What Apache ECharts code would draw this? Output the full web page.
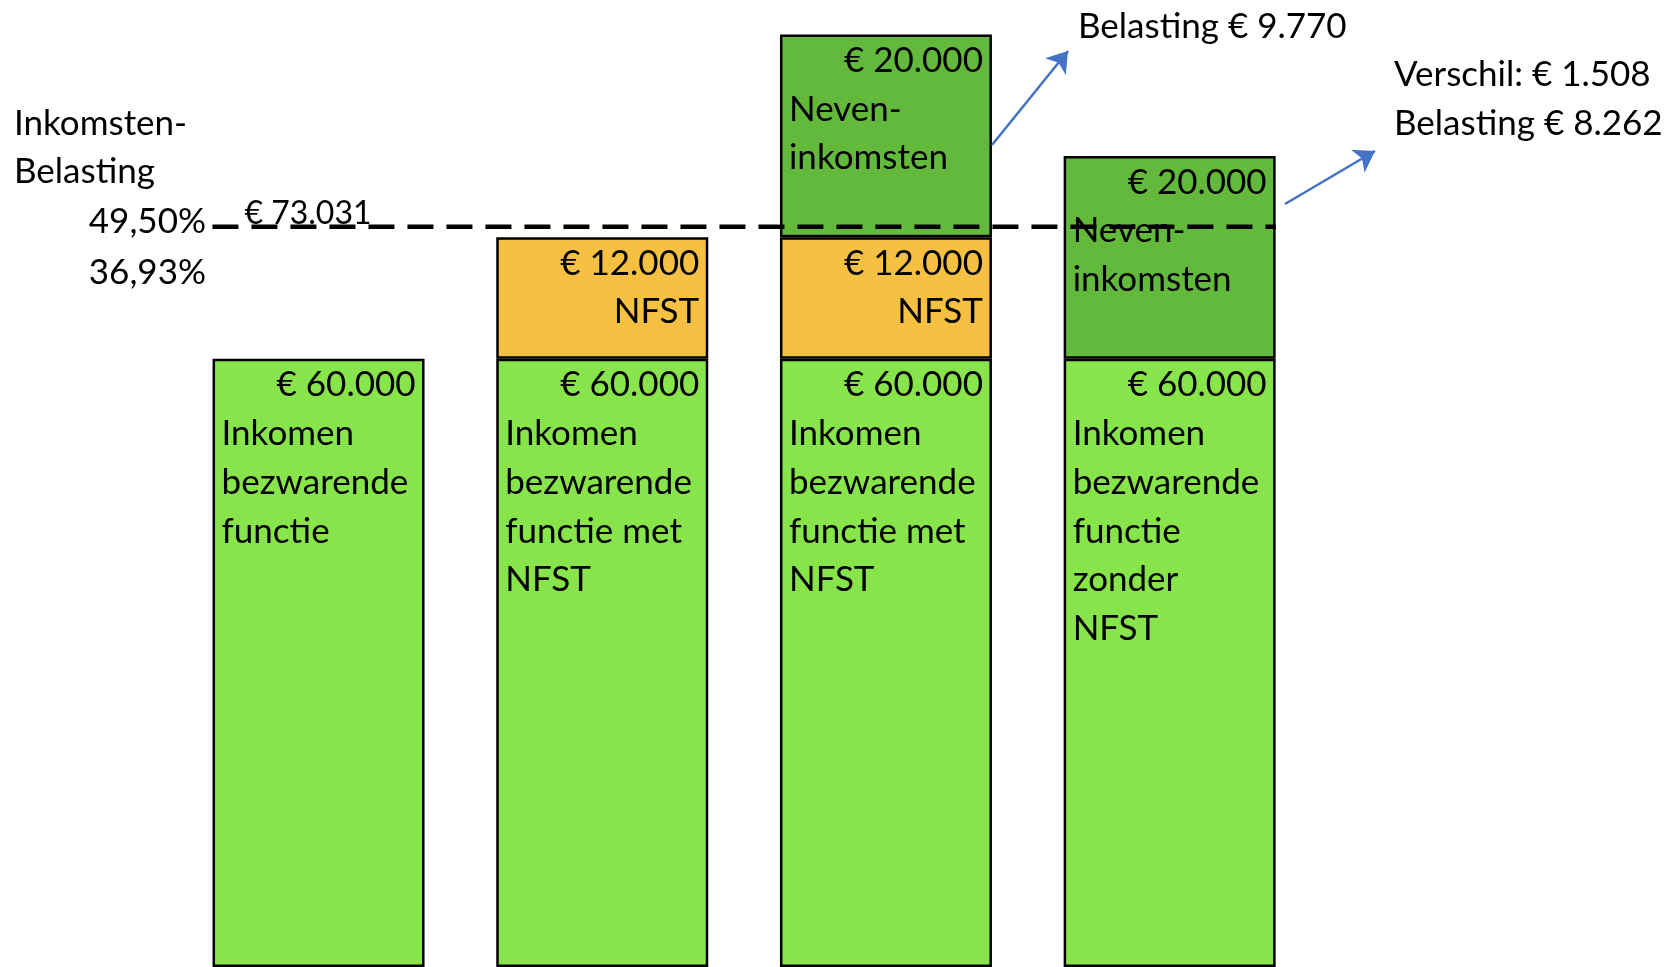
<!DOCTYPE html>
<html>
<head>
<meta charset="utf-8">
<script src="https://cdn.jsdelivr.net/npm/echarts@6/dist/echarts.min.js"></script>
<style>
html,body{margin:0;padding:0;background:#fff;}
#chart{width:1678px;height:967px;}
</style>
</head>
<body>
<div id="chart"></div>
<script>
// ---- data ----
const categories = ['Inkomen bezwarende functie', 'Functie met NFST', 'Functie met NFST + nevenink.', 'Functie zonder NFST'];
const baseValues = [60000, 60000, 60000, 60000];
const nfstValues = [null, 12000, 12000, null];
const nevenValues = [null, null, 20000, 20000];
const baseTexts = [
  ['Inkomen', 'bezwarende', 'functie'],
  ['Inkomen', 'bezwarende', 'functie met', 'NFST'],
  ['Inkomen', 'bezwarende', 'functie met', 'NFST'],
  ['Inkomen', 'bezwarende', 'functie', 'zonder', 'NFST']
];
const nfstTexts = ['NFST'];
const nevenTexts = ['Neven-', 'inkomsten'];
const threshold = 73031;
const thresholdText = '€ 73.031';
const rateAbove = '49,50%';
const rateBelow = '36,93%';
const leftTitle = ['Inkomsten-', 'Belasting'];
const note1 = 'Belasting € 9.770';
const note2 = ['Verschil: € 1.508', 'Belasting € 8.262'];

// ---- helpers ----
const FONT = 'Lato';
function euro(v) {
  return '€ ' + String(v).replace(/\B(?=(\d{3})+(?!\d))/g, '.');
}
const LH = 48.7;
const FS = 35;
const rich = {
  v: { align: 'right', fontSize: FS, lineHeight: LH, fontFamily: FONT, color: '#000' },
  t: { align: 'left', fontSize: FS, lineHeight: LH, fontFamily: FONT, color: '#000' },
  r: { align: 'right', fontSize: FS, lineHeight: LH, fontFamily: FONT, color: '#000' }
};
function labelCfg(fmt) {
  return {
    show: true, position: 'insideTop', distance: 2, width: 194,
    formatter: fmt, rich: rich
  };
}
const border = { borderColor: '#000', borderWidth: 2.5 };

const chart = echarts.init(document.getElementById('chart'), null, { renderer: 'canvas' });
chart.setOption({
  animation: false,
  backgroundColor: '#fff',
  grid: { left: 176.7, right: 366.5, top: 4, bottom: -8, containLabel: false },
  xAxis: [
    { type: 'category', data: categories, show: false },
    { type: 'value', min: -0.5, max: 3.5, show: false }
  ],
  yAxis: { type: 'value', min: 0, max: 95000, show: false, splitLine: { show: false } },
  series: [
    {
      type: 'bar', stack: 'a', barWidth: 212, data: baseValues, z: 2,
      itemStyle: Object.assign({ color: '#88E44B' }, border),
      label: labelCfg(p => '{v|' + euro(p.value) + '}\n' + baseTexts[p.dataIndex].map(s => '{t|' + s + '}').join('\n'))
    },
    {
      type: 'bar', stack: 'a', barWidth: 212, data: nfstValues, z: 2,
      itemStyle: Object.assign({ color: '#F6C143' }, border),
      label: labelCfg(p => '{v|' + euro(p.value) + '}\n' + nfstTexts.map(s => '{r|' + s + '}').join('\n'))
    },
    {
      type: 'bar', stack: 'a', barWidth: 212, data: nevenValues, z: 2,
      itemStyle: Object.assign({ color: '#63B93C' }, border),
      label: labelCfg(p => '{v|' + euro(p.value) + '}\n' + nevenTexts.map(s => '{t|' + s + '}').join('\n'))
    },
    {
      type: 'line', xAxisIndex: 1, z: 2, symbol: 'none', silent: true,
      data: [[-0.374, threshold], [3.374, threshold]],
      lineStyle: { color: '#000', width: 4.5, type: [26, 13] },
      markLine: {
        silent: true, symbol: ['none', 'arrow'], symbolSize: 20,
        label: { show: false },
        lineStyle: { color: '#4472C4', width: 2.5, type: 'solid' },
        data: [
          [{ x: 992, y: 145 }, { x: 1068, y: 51 }],
          [{ x: 1285, y: 204 }, { x: 1375, y: 151 }]
        ]
      }
    }
  ]
});

const lineY = chart.convertToPixel({ yAxisIndex: 0 }, threshold);
const lineX0 = chart.convertToPixel({ xAxisIndex: 1 }, -0.374);
const txt = (text, x, y, align, size) => ({
  type: 'text', x: x, y: y, z: 100,
  style: { text: text, fill: '#000', font: (size || FS) + 'px ' + FONT, align: align || 'left', verticalAlign: 'middle' }
});
chart.setOption({
  graphic: [
    txt(leftTitle[0], 14, 124),
    txt(leftTitle[1], 14, 172),
    txt(rateAbove, 206, 222, 'right'),
    txt(rateBelow, 206, 273, 'right'),
    txt(thresholdText, lineX0 + 32, lineY - 13, 'left', 32),
    txt(note1, 1078, 27),
    txt(note2[0], 1394, 75),
    txt(note2[1], 1394, 124)
  ]
});
</script>
</body>
</html>
